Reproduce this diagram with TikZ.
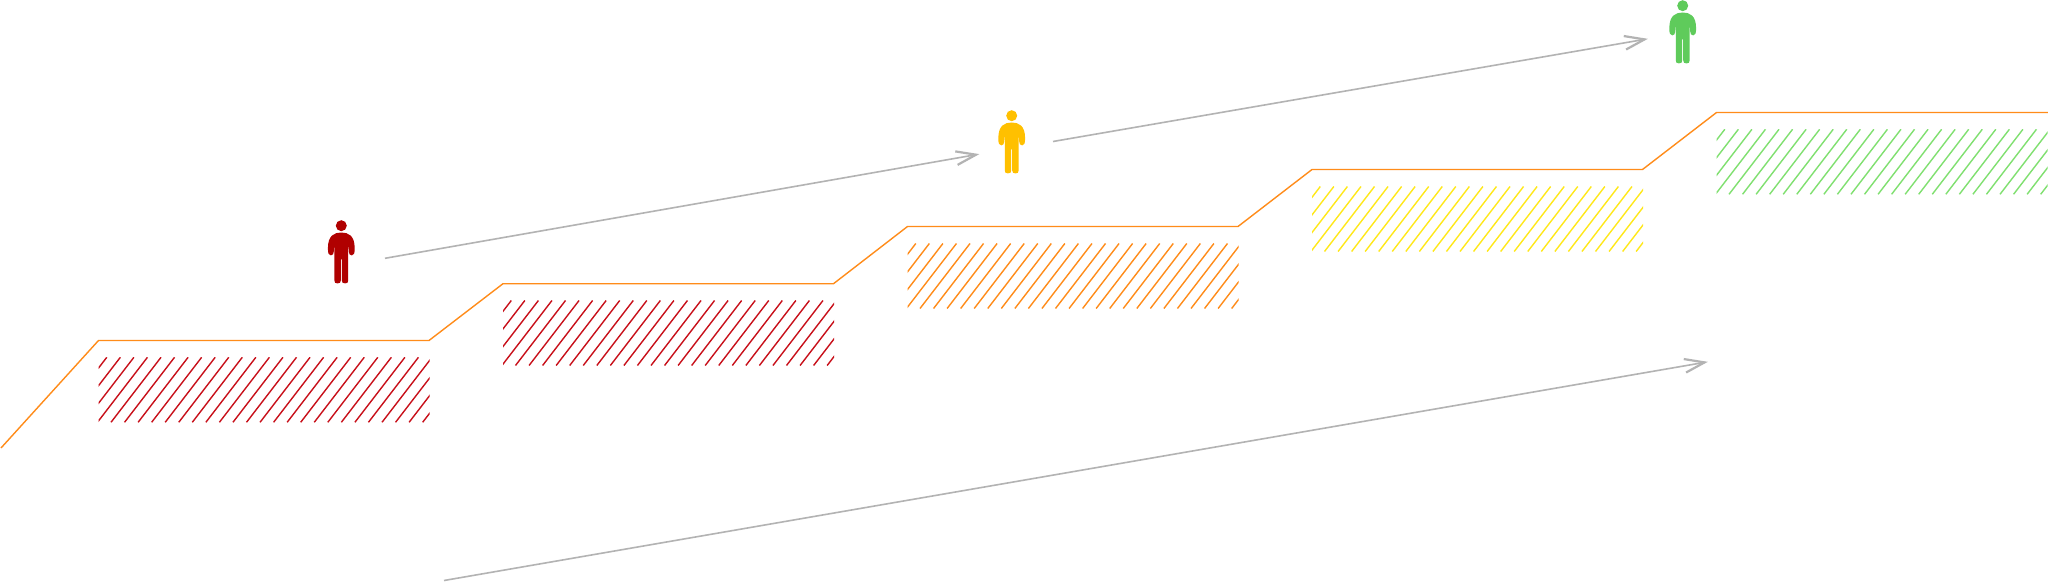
\documentclass[tikz,border=0pt]{standalone}
\usetikzlibrary{calc}
\definecolor{steporange}{HTML}{FF8C1A}
\definecolor{hatchred}{HTML}{C8101A}
\definecolor{hatchorange}{HTML}{FF8C1A}
\definecolor{hatchyellow}{HTML}{FFE81A}
\definecolor{hatchgreen}{HTML}{80E070}
\definecolor{personred}{HTML}{B00000}
\definecolor{personyellow}{HTML}{FFC000}
\definecolor{persongreen}{HTML}{5FCB5B}
\definecolor{arrowgray}{HTML}{B3B3B3}
\tikzset{
  x=1pt,y=-1pt,
  stepline/.style={draw=steporange,line width=1.4pt,line join=miter},
  flow/.style={draw=arrowgray,line width=1.6pt},
  flowhead/.style={draw=arrowgray,line width=2.2pt,line join=miter},
  hatchline/.style={line width=1.4pt},
  pics/person/.style={code={
    \fill[#1] (0,-57.7) circle[radius=5.5];
    \fill[#1]
      (0,-50.9) .. controls (-7,-50.9) and (-13.4,-48) .. (-13.4,-35)
      .. controls (-13.4,-30) and (-12.5,-28) .. (-10.5,-28)
      .. controls (-8.5,-28) and (-7.5,-29.5) .. (-7.5,-32)
      .. controls (-7.5,-34) and (-7.5,-36) .. (-6.9,-38)
      -- (-6.9,-3) .. controls (-6.9,-0.8) and (-6,0) .. (-3.8,0)
      .. controls (-1.5,0) and (-0.5,-0.8) .. (-0.5,-3)
      -- (-0.5,-24) -- (0.5,-24) -- (0.5,-3)
      .. controls (0.5,-0.8) and (1.5,0) .. (3.8,0)
      .. controls (6,0) and (6.9,-0.8) .. (6.9,-3)
      -- (6.9,-38) .. controls (7.5,-36) and (7.5,-34) .. (7.5,-32)
      .. controls (7.5,-29.5) and (8.5,-28) .. (10.5,-28)
      .. controls (12.5,-28) and (13.4,-30) .. (13.4,-35)
      .. controls (13.4,-48) and (7,-50.9) .. (0,-50.9) -- cycle;
  }}
}
\newcommand{\hatchblock}[3]{%
  \begin{scope}
    \clip (#1,#2) rectangle ++(331,65);
    \foreach \k in {-1,...,29}
      \draw[hatchline,#3] ({#1+8.3+13.55*\k},#2) -- ++(-50,65);
  \end{scope}}
\newcommand{\flowarrow}[2]{%
  \draw[flow] (#1)--(#2);
  \draw[flowhead] ($(#2)!21pt!19:(#1)$) -- (#2) -- ($(#2)!21pt!-19:(#1)$);}
\begin{document}
\begin{tikzpicture}
\useasboundingbox (0,0) rectangle (2048,583);
\fill[white] (0,0) rectangle (2048,583);
\hatchblock{98.5}{357.3}{hatchred}
\hatchblock{503}{300.5}{hatchred}
\hatchblock{907.5}{243.5}{hatchorange}
\hatchblock{1312}{186.5}{hatchyellow}
\hatchblock{1716.5}{129.3}{hatchgreen}
\coordinate (s0) at (1,448);
\coordinate (s1) at (98.5,340.5);
\coordinate (s2) at (429,340.5);
\coordinate (s3) at (503,283.7);
\coordinate (s4) at (833.5,283.7);
\coordinate (s5) at (907.5,226.5);
\coordinate (s6) at (1238,226.5);
\coordinate (s7) at (1312,169.5);
\coordinate (s8) at (1642.5,169.5);
\coordinate (s9) at (1716.5,112.5);
\coordinate (s10) at (2048,112.5);
\draw[stepline] (s0)--(s1)--(s2)--(s3)--(s4)--(s5)--(s6)--(s7)--(s8)--(s9)--(s10);
\pic at (341.3,283.4) {person=personred};
\pic at (1011.7,173.4) {person=personyellow};
\pic at (1682.7,63.4) {person=persongreen};
\coordinate (a1) at (385,258.3);
\coordinate (b1) at (976,154.7);
\coordinate (a2) at (1053,141.5);
\coordinate (b2) at (1644.5,39.4);
\coordinate (a3) at (444,580.5);
\coordinate (b3) at (1704.5,362.4);
\flowarrow{a1}{b1}
\flowarrow{a2}{b2}
\flowarrow{a3}{b3}
\end{tikzpicture}
\end{document}
